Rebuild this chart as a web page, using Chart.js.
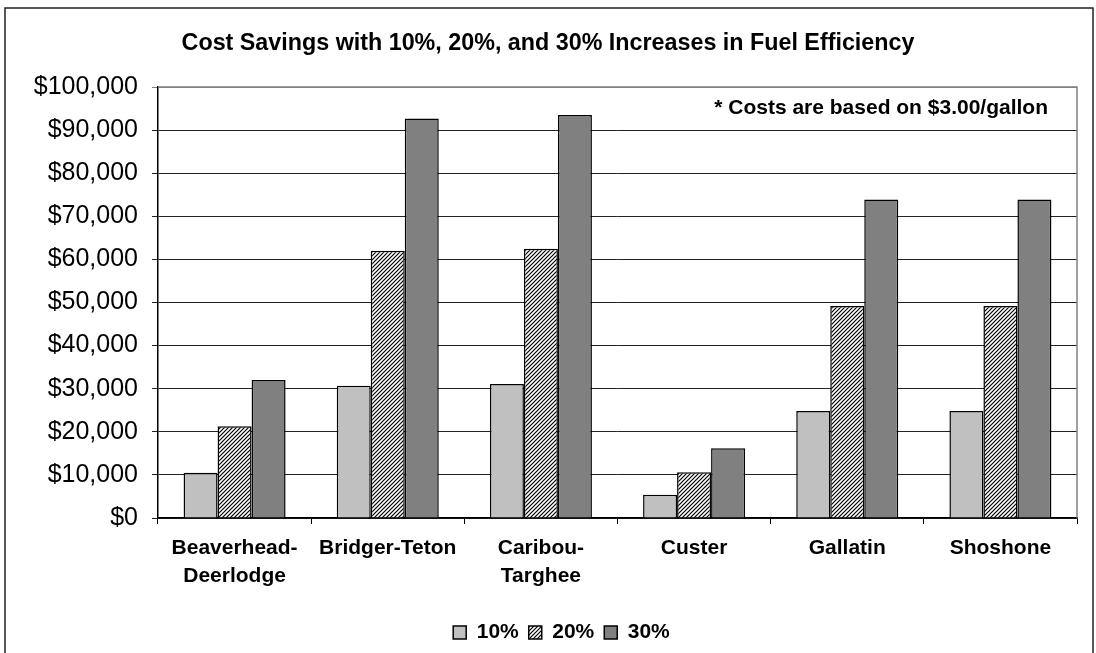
<!DOCTYPE html>
<html>
<head>
<meta charset="utf-8">
<script src="https://cdn.jsdelivr.net/npm/chart.js@4/dist/chart.umd.min.js"></script>
<style>
  html, body { margin: 0; padding: 0; background: #fff; }
  #wrap { width: 1096px; height: 653px; position: relative; }
</style>
</head>
<body>
<div id="wrap"><canvas id="c" width="1096" height="653"></canvas></div>
<script>
const categories = [['Beaverhead-', 'Deerlodge'], 'Bridger-Teton', ['Caribou-', 'Targhee'], 'Custer', 'Gallatin', 'Shoshone'];
const seriesNames = ['10%', '20%', '30%'];
const savings10 = [10500, 30700, 31100, 5400, 24800, 24800];
const savings20 = [21300, 62000, 62500, 10600, 49200, 49200];
const savings30 = [32000, 92700, 93500, 16200, 73900, 73900];
const yTickValues = [0, 10000, 20000, 30000, 40000, 50000, 60000, 70000, 80000, 90000, 100000];
const titleText = 'Cost Savings with 10%, 20%, and 30% Increases in Fuel Efficiency';
const noteText = '* Costs are based on $3.00/gallon';

const FONT = "'Liberation Sans', Arial, sans-serif";

function makeHatch() {
  const s = 4;
  const pc = document.createElement('canvas');
  pc.width = s; pc.height = s;
  const g = pc.getContext('2d');
  g.fillStyle = '#ffffff';
  g.fillRect(0, 0, s, s);
  g.strokeStyle = '#000000';
  g.lineWidth = 1.2;
  g.beginPath();
  g.moveTo(-1, s + 1); g.lineTo(s + 1, -1);
  g.moveTo(-1, 1); g.lineTo(1, -1);
  g.moveTo(s - 1, s + 1); g.lineTo(s + 1, s - 1);
  g.stroke();
  return document.getElementById('c').getContext('2d').createPattern(pc, 'repeat');
}
const hatch = makeHatch();

const LEGEND_SHIFT = 23;

const framePlugin = {
  id: 'frame',
  afterLayout(chart) {
    if (chart.legend) {
      chart.legend.left += LEGEND_SHIFT;
      chart.legend.right += LEGEND_SHIFT;
    }
  },
  beforeDraw(chart) {
    const ctx = chart.ctx;
    ctx.save();
    ctx.fillStyle = '#ffffff';
    ctx.fillRect(0, 0, chart.width, chart.height);
    ctx.strokeStyle = '#222222';
    ctx.lineWidth = 1.5;
    ctx.strokeRect(5, 8, 1088, 660);
    ctx.fillStyle = '#000000';
    ctx.font = "bold 23.3px " + FONT;
    ctx.textAlign = 'center';
    ctx.textBaseline = 'middle';
    ctx.fillText(titleText, 548, 44);
    ctx.restore();
  },
  beforeDatasetsDraw(chart) {
    const {ctx, chartArea} = chart;
    ctx.save();
    ctx.strokeStyle = '#808080';
    ctx.lineWidth = 1.5;
    ctx.beginPath();
    ctx.moveTo(chartArea.left, chartArea.top);
    ctx.lineTo(chartArea.right, chartArea.top);
    ctx.lineTo(chartArea.right, chartArea.bottom);
    ctx.stroke();
    ctx.fillStyle = '#000000';
    ctx.font = "bold 21px " + FONT;
    ctx.textAlign = 'right';
    ctx.textBaseline = 'middle';
    ctx.fillText(noteText, chartArea.right - 29, chartArea.top + 21);
    ctx.restore();
  }
};

new Chart(document.getElementById('c'), {
  type: 'bar',
  data: {
    labels: categories,
    datasets: [
      { label: seriesNames[0], data: savings10, backgroundColor: '#c0c0c0', borderColor: '#000', borderWidth: 1.5 },
      { label: seriesNames[1], data: savings20, backgroundColor: hatch, borderColor: '#000', borderWidth: 1.5 },
      { label: seriesNames[2], data: savings30, backgroundColor: '#808080', borderColor: '#000', borderWidth: 1.5 }
    ]
  },
  options: {
    responsive: false,
    animation: false,
    devicePixelRatio: 1,
    layout: { padding: { left: 0, right: 19, top: 87, bottom: 0 } },
    datasets: { bar: { categoryPercentage: 0.666, barPercentage: 1.0 } },
    plugins: {
      tooltip: { enabled: false },
      title: { display: false },
      legend: {
        position: 'bottom',
        labels: {
          color: '#000',
          font: { family: FONT, size: 21, weight: 'bold' },
          boxWidth: 13,
          boxHeight: 13,
          padding: 10
        }
      }
    },
    scales: {
      x: {
        offset: true,
        grid: { display: true, drawOnChartArea: false, drawTicks: true, tickLength: 6, color: '#000', offset: true },
        border: { display: true, color: '#000', width: 1.5 },
        ticks: {
          color: '#000',
          font: { family: FONT, size: 21, weight: 'bold', lineHeight: 1.33 },
          padding: 10,
          maxRotation: 0,
          autoSkip: false
        },
        afterFit(scale) { scale.height = 94; }
      },
      y: {
        min: 0,
        max: 100000,
        afterBuildTicks(scale) { scale.ticks = yTickValues.map(v => ({ value: v })); },
        grid: {
          color: ctx => (ctx.tick && ctx.tick.value === 100000) ? '#808080' : '#222',
          lineWidth: 1,
          drawTicks: true,
          tickLength: 6
        },
        border: { display: true, color: '#000', width: 1.5 },
        ticks: {
          color: '#000',
          font: { family: FONT, size: 25 },
          padding: 14,
          callback: v => '$' + Number(v).toLocaleString('en-US')
        },
        afterFit(scale) { scale.width = 158; }
      }
    }
  },
  plugins: [framePlugin]
});
</script>
</body>
</html>
